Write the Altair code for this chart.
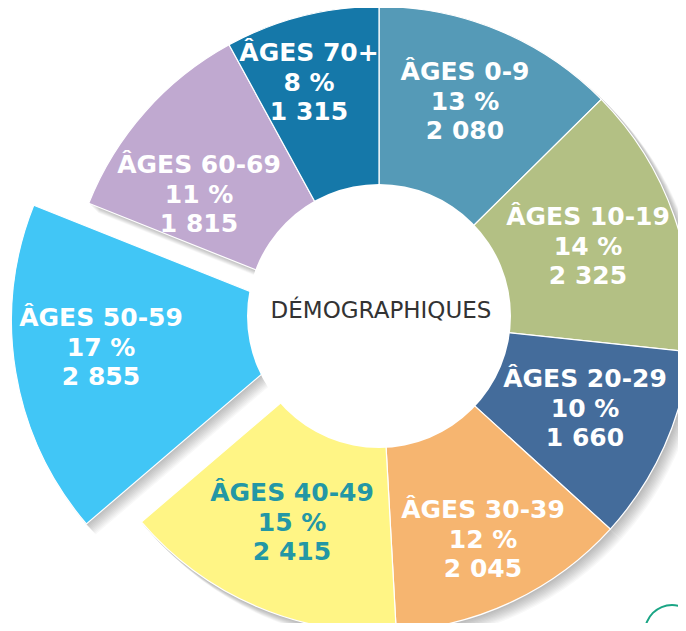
import altair as alt
import pandas as pd

AGES = ["0-9", "10-19", "20-29", "30-39", "40-49", "50-59", "60-69", "70+"]
COUNTS = [2080, 2325, 1660, 2045, 2415, 2855, 1815, 1315]
SHARES = [13, 14, 10, 12, 15, 17, 11, 8]
COUNT_LABELS = ["2 080", "2 325", "1 660", "2 045", "2 415", "2 855", "1 815", "1 315"]
COLORS = ["#559ab7", "#b3c084", "#446c9b", "#f6b570", "#fff585", "#41c6f6", "#c0a9d0", "#1578a9"]
TEXT_COLORS = ["white", "white", "white", "white", "#2397a5", "white", "white", "white"]

W, H = 670, 615
CX, CY = 371, 311
R, R_IN = 312.5, 132
EXPLODE = "50-59"
DX, DY = -55, 2
FONT = "DejaVu Sans"
LABEL_XY = [(457, 64), (580, 209), (577, 371), (475, 502), (284, 485), (93, 310), (191, 157), (301, 45)]
TAU = 6.283185307

start, rows, total = 0, [], sum(COUNTS)
for a, c, col in zip(AGES, COUNTS, COLORS):
    rows.append({"age": a, "start": start, "end": start + c, "color": col})
    start += c
df = pd.DataFrame(rows)
theta_scale = alt.Scale(domain=[0, total], range=[0, TAU])


def arcs(data, cx, cy, radius, inner=0, **kw):
    return alt.Chart(data).mark_arc(radius=radius, radius2=inner, clip=True, **kw).encode(
        theta=alt.Theta("start:Q", scale=theta_scale),
        theta2=alt.Theta2("end:Q"),
        x=alt.value(cx),
        y=alt.value(cy),
    )


def full_circle(cx, cy, radius, inner, fill):
    one = pd.DataFrame({"start": [0], "end": [total]})
    return arcs(one, cx, cy, radius, inner, fill=fill)


ring = df[df.age != EXPLODE]
out = df[df.age == EXPLODE]
layers = []
for i in range(1, 11):
    shadow = dict(fill="black", fillOpacity=0.026)
    layers.append(arcs(ring, CX + i, CY + i, R + 1, **shadow))
    layers.append(arcs(out, CX + DX + i, CY + DY + i, R + 1, **shadow))

coloured = dict(stroke="white", strokeWidth=1.2)
layers.append(
    arcs(out, CX + DX, CY + DY, R, **coloured).encode(color=alt.Color("color:N", scale=None))
)
layers.append(arcs(ring, CX, CY, R, **coloured).encode(color=alt.Color("color:N", scale=None)))

layers.append(full_circle(CX, CY - 3, R_IN, 0, "white"))
layers.append(full_circle(664, 624, 28, 26, "#1aa585"))

for a, s, c, tc, (x, y) in zip(AGES, SHARES, COUNT_LABELS, TEXT_COLORS, LABEL_XY):
    lab = pd.DataFrame({"t": [f"ÂGES {a}\n{s} %\n{c}"]})
    layers.append(
        alt.Chart(lab).mark_text(
            font=FONT, fontSize=25, fontWeight=700, color=tc, align="center",
            baseline="middle", lineBreak="\n", lineHeight=29.7,
        ).encode(text="t:N", x=alt.value(x), y=alt.value(y))
    )

center = pd.DataFrame({"t": ["DÉMOGRAPHIQUES"]})
layers.append(
    alt.Chart(center).mark_text(font=FONT, fontSize=23, fontWeight=400, color="#333333").encode(
        text="t:N", x=alt.value(373), y=alt.value(303)
    )
)

chart = alt.layer(*layers).properties(
    width=W, height=H, padding=0, autosize=alt.AutoSizeParams(type="none")
).configure_view(stroke=None)
chart.save("out.html", embed_options={"renderer": "svg", "actions": False})
